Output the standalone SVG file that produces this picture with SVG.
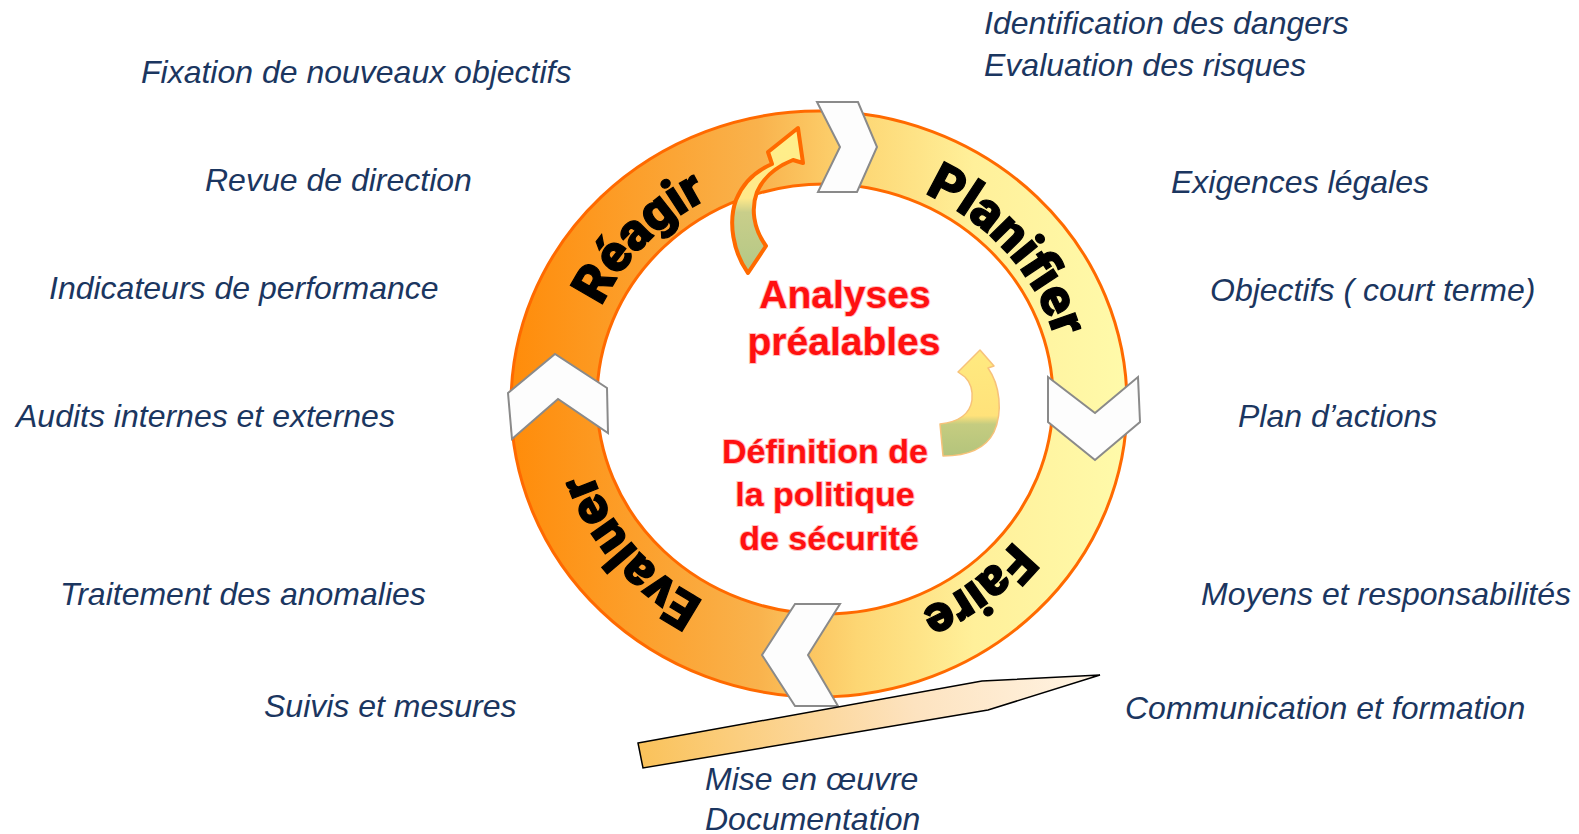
<svg xmlns="http://www.w3.org/2000/svg" xmlns:xlink="http://www.w3.org/1999/xlink" width="1579" height="834" viewBox="0 0 1579 834">
<defs>
<linearGradient id="ringGrad" gradientUnits="userSpaceOnUse" x1="511" y1="0" x2="1128" y2="0">
<stop offset="0" stop-color="#FF8C0A"/>
<stop offset="0.4" stop-color="#F9B24C"/>
<stop offset="0.56" stop-color="#FDD673"/>
<stop offset="0.75" stop-color="#FFF09A"/>
<stop offset="1" stop-color="#FFFAAA"/>
</linearGradient>
<linearGradient id="wedgeGrad" gradientUnits="userSpaceOnUse" x1="640" y1="760" x2="1100" y2="675">
<stop offset="0" stop-color="#FAC25A"/>
<stop offset="0.6" stop-color="#FDE3C0"/>
<stop offset="1" stop-color="#FFF4E4"/>
</linearGradient>
<linearGradient id="arrowA" gradientUnits="userSpaceOnUse" x1="0" y1="130" x2="0" y2="272">
<stop offset="0" stop-color="#FFF08A"/>
<stop offset="0.48" stop-color="#FFE98A"/>
<stop offset="0.58" stop-color="#C9CE8A"/>
<stop offset="1" stop-color="#B3C886"/>
</linearGradient>
<linearGradient id="arrowB" gradientUnits="userSpaceOnUse" x1="0" y1="350" x2="0" y2="456">
<stop offset="0" stop-color="#FFEA80"/>
<stop offset="0.62" stop-color="#FFE27A"/>
<stop offset="0.7" stop-color="#C5CC80"/>
<stop offset="1" stop-color="#B3C47C"/>
</linearGradient>
<path id="labelPath" d="M 580,401 A 242 229 0 1 1 1064,401 A 242 229 0 1 1 580,401"/>
<style>
.side{font-family:"Liberation Sans",Arial,sans-serif;font-style:italic;font-size:32px;fill:#1B3660;}
.phase{font-family:Roboto,"Liberation Sans",Arial,sans-serif;font-weight:900;font-size:52px;fill:#000;stroke:#000;stroke-width:1.2;}
.center{font-family:"Liberation Sans",Arial,sans-serif;font-weight:bold;fill:#FF1010;stroke:#FFC0C0;stroke-width:2;paint-order:stroke;text-anchor:middle;}
.chev{fill:#FDFDFD;stroke:#8A8A8A;stroke-width:2;stroke-linejoin:miter;}
</style>
</defs>
<rect width="1579" height="834" fill="#FFFFFF"/>

<g id="ring">
<path d="M 511,404 A 308 293 0 1 1 1127,404 A 308 293 0 1 1 511,404 Z M 597,399 A 228 215 0 1 0 1053,399 A 228 215 0 1 0 597,399 Z" fill="url(#ringGrad)" fill-rule="evenodd" stroke="#FF6A00" stroke-width="3"/>
</g>

<g id="chevrons">
<polygon id="chev-top" class="chev" points="817,102 858,102 877,147 857,192 818,192 840,147"/>
<polygon id="chev-right" class="chev" points="1048,377 1095,413 1138,377 1140,422 1095,460 1048,422"/>
<polygon id="chev-bottom" class="chev" points="795,604 840,604 808,655 838,706 795,706 762,655"/>
<polygon id="chev-left" class="chev" points="508,393 555,354 607,388 608,433 558,399 512,439"/>
</g>

<g id="phases">
<text id="reagir" class="phase"><textPath href="#labelPath" xlink:href="#labelPath" startOffset="11.8%" text-anchor="middle">Réagir</textPath></text>
<text id="planifier" class="phase"><textPath href="#labelPath" xlink:href="#labelPath" startOffset="38.9%" text-anchor="middle">Planifier</textPath></text>
<text id="faire" class="phase"><textPath href="#labelPath" xlink:href="#labelPath" startOffset="64.2%" text-anchor="middle">Faire</textPath></text>
<text id="evaluer" class="phase"><textPath href="#labelPath" xlink:href="#labelPath" startOffset="89.2%" text-anchor="middle">Evaluer</textPath></text>
</g>

<g id="connectors">
<path id="arrow-left" d="M 748,273 C 733,252 728,222 736,200 C 744,180 758,170 772,164 L 768,152 L 798,128 L 803,163 L 793,160 C 778,166 764,176 757,192 C 751,208 753,228 766,246 Z" fill="url(#arrowA)" stroke="#FF6A00" stroke-width="4" stroke-linejoin="round"/>
<path id="arrow-right" d="M 943,456 L 940,424 C 958,422 970,414 972,400 C 973,390 970,382 965,377 L 958,372 L 980,350 L 994,366 L 988,368 C 1000,385 1003,412 994,432 C 985,450 965,456 943,456 Z" fill="url(#arrowB)" stroke="#F7C27A" stroke-width="1.5" stroke-linejoin="round"/>
</g>

<g id="wedge">
<polygon points="638,743 982,681 1100,675 988,710 643,768" fill="url(#wedgeGrad)" stroke="#000" stroke-width="1.5" stroke-linejoin="miter"/>
</g>

<g id="center-text">
<text class="center" font-size="39" x="845" y="308">Analyses</text>
<text class="center" font-size="39" x="844" y="355">préalables</text>
<text class="center" font-size="34" x="825" y="463">Définition de</text>
<text class="center" font-size="34" x="825" y="506">la politique</text>
<text class="center" font-size="34" x="829" y="550">de sécurité</text>
</g>

<g id="side-labels">
<text class="side" x="984" y="34">Identification des dangers</text>
<text class="side" x="984" y="76">Evaluation des risques</text>
<text class="side" x="141" y="83">Fixation de nouveaux objectifs</text>
<text class="side" x="205" y="191">Revue de direction</text>
<text class="side" x="1171" y="193">Exigences légales</text>
<text class="side" x="49" y="299">Indicateurs de performance</text>
<text class="side" x="1210" y="301">Objectifs ( court terme)</text>
<text class="side" x="16" y="427">Audits internes et externes</text>
<text class="side" x="1238" y="427">Plan d’actions</text>
<text class="side" x="60" y="605">Traitement des anomalies</text>
<text class="side" x="1201" y="605">Moyens et responsabilités</text>
<text class="side" x="264" y="717">Suivis et mesures</text>
<text class="side" x="1125" y="719">Communication et formation</text>
<text class="side" x="705" y="790">Mise en œuvre</text>
<text class="side" x="705" y="830">Documentation</text>
</g>
</svg>
